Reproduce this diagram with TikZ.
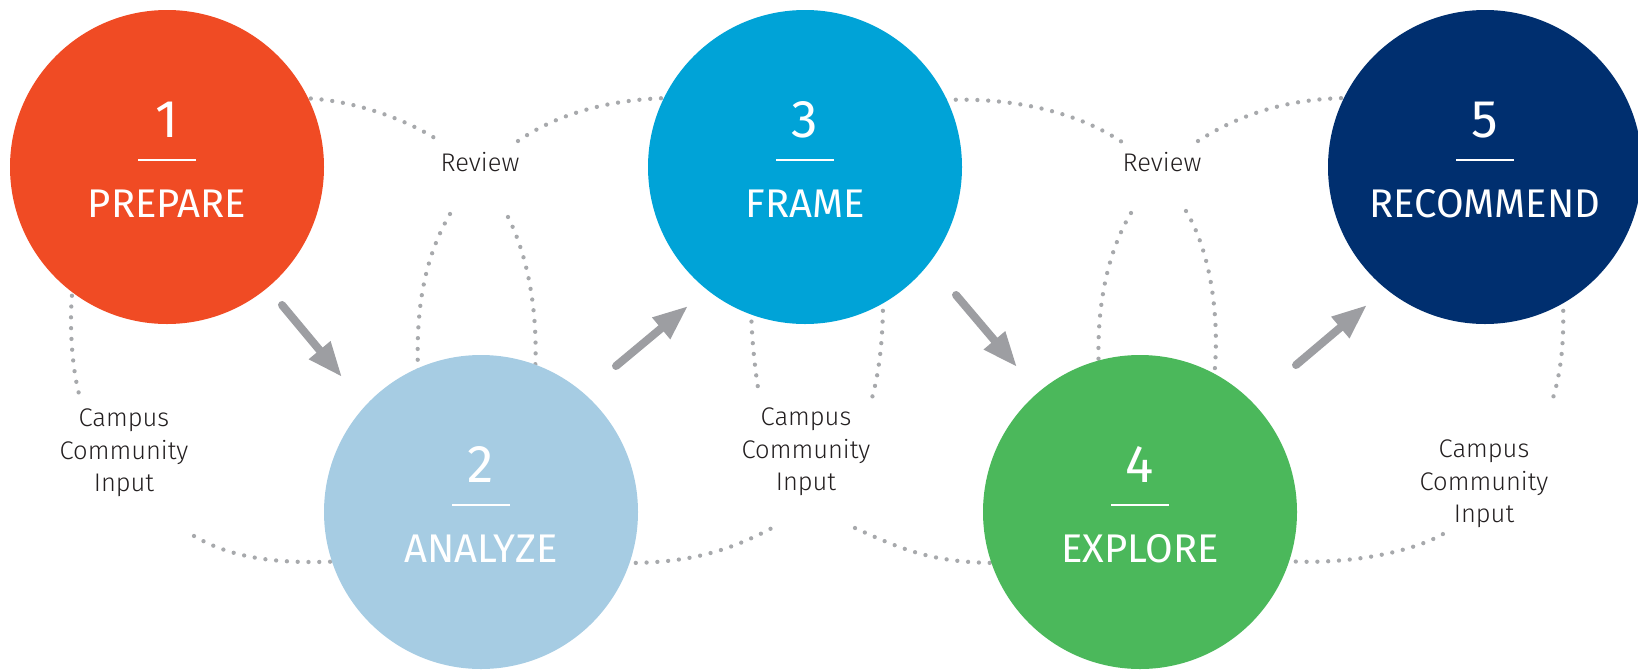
\documentclass[tikz,border=0pt]{standalone}
\usepackage{fontspec}
\setmainfont{Fira Sans}
\newfontfamily\lightfont{Fira Sans Light}
\usetikzlibrary{arrows.meta}
\definecolor{c1col}{HTML}{F04B24}
\definecolor{c2col}{HTML}{A6CCE3}
\definecolor{c3col}{HTML}{00A3D7}
\definecolor{c4col}{HTML}{4BB85B}
\definecolor{c5col}{HTML}{002F6F}
\definecolor{arrowgray}{HTML}{9D9EA2}
\definecolor{dotgray}{HTML}{A7A9AC}
\definecolor{labelcol}{HTML}{231F20}
\tikzset{
  stagecircle/.style={circle, minimum size=314pt, inner sep=0pt, draw=none},
  numtext/.style={text=white, inner sep=0pt, anchor=base, font=\fontsize{53}{53}\selectfont},
  wordtext/.style={text=white, inner sep=0pt, anchor=base, font=\fontsize{40}{40}\selectfont},
  ruleline/.style={draw=white, line width=2pt},
  dotline/.style={draw=dotgray, line width=4.3pt, line cap=round, dash pattern=on 0pt off 10.8pt},
  flowarrow/.style={draw=arrowgray, line width=8pt, line cap=round, -{Triangle[length=35pt,width=26pt]}},
  labeltext/.style={text=labelcol, inner sep=0pt, align=center, font=\lightfont\fontsize{25.5}{32.5}\selectfont}
}
\newcommand{\mystage}[6]{%
  \node[stagecircle, fill=#4] (#1) at (#2,#3) {};
  \node[numtext] (#1num) at ({#2},{#3-30}) {#5};
  \draw[ruleline] ({#2-29},{#3-7}) -- ({#2+29},{#3-7});
  \node[wordtext] (#1word) at ({#2},{#3+50}) {#6};
}
\begin{document}
\begin{tikzpicture}[x=1pt,y=-1pt]
\useasboundingbox (0,0) rectangle (1638,670);
% free ends of the dotted loops
\coordinate (rAend) at (441,142);
\coordinate (rBstart) at (518,141);
\coordinate (rCstart) at (450,214);
\coordinate (rDstart) at (508,217);
\coordinate (iEend) at (79,394);
\coordinate (iFstart) at (194,536);
\coordinate (iGend) at (759,394);
\coordinate (iHend) at (872,398);
\coordinate (iIend) at (772,528);
\coordinate (iJstart) at (855,528);
\coordinate (rKend) at (1122,142);
\coordinate (rLstart) at (1198,141);
\coordinate (rMstart) at (1131,213);
\coordinate (rNstart) at (1186,211);
\coordinate (iOend) at (1553,398);
\coordinate (iPend) at (1443,534);
% dotted loops (drawn first, circles cover their ends)
\draw[dotline] (300,98) .. controls (350,99) and (405,118) .. (rAend);
\draw[dotline] (rBstart) .. controls (559,112.5) and (615,98) .. (675,98);
\draw[dotline] (rCstart) .. controls (422,262) and (416,315) .. (418,372);
\draw[dotline] (rDstart) .. controls (530.5,261.5) and (538,320) .. (535,372);
\draw[dotline] (73,285) .. controls (69,318) and (71,362) .. (iEend);
\draw[dotline] (iFstart) .. controls (237,561.5) and (290,564) .. (345,561);
\draw[dotline] (751,300) .. controls (751,335) and (755,370) .. (iGend);
\draw[dotline] (883,300) .. controls (883,335) and (880,369) .. (iHend);
\draw[dotline] (625,563) .. controls (685,563) and (725,553) .. (iIend);
\draw[dotline] (iJstart) .. controls (905,551) and (935,563) .. (1000,563);
\draw[dotline] (945,100) .. controls (990,98) and (1064,103.5) .. (rKend);
\draw[dotline] (rLstart) .. controls (1240,114) and (1290,98) .. (1350,98);
\draw[dotline] (rMstart) .. controls (1104,258) and (1096,318) .. (1099,372);
\draw[dotline] (rNstart) .. controls (1212,254) and (1220,322) .. (1214,378);
\draw[dotline] (1563,300) .. controls (1564,335) and (1562.6,366) .. (iOend);
\draw[dotline] (1285,561) .. controls (1345,565) and (1410,553) .. (iPend);
% stages
\mystage{c1}{167}{167}{c1col}{1}{PREPARE}
\mystage{c2}{481}{512}{c2col}{2}{ANALYZE}
\mystage{c3}{805}{167}{c3col}{3}{FRAME}
\mystage{c4}{1140}{512}{c4col}{4}{EXPLORE}
\mystage{c5}{1485}{167}{c5col}{5}{RECOMMEND}
% arrows
\coordinate (a1s) at (282,305); \coordinate (a1e) at (342,377);
\coordinate (a2s) at (616,366); \coordinate (a2e) at (688,306);
\coordinate (a3s) at (956,295); \coordinate (a3e) at (1017,367);
\coordinate (a4s) at (1296,365); \coordinate (a4e) at (1367,305);
\draw[flowarrow] (a1s) -- (a1e);
\draw[flowarrow] (a2s) -- (a2e);
\draw[flowarrow] (a3s) -- (a3e);
\draw[flowarrow] (a4s) -- (a4e);
% labels
\node[labeltext] (rev1) at (480,162) {Review};
\node[labeltext] (rev2) at (1162,162) {Review};
\node[labeltext] (cci1) at (124,453) {Campus\\Community\\Input};
\node[labeltext] (cci2) at (806,452) {Campus\\Community\\Input};
\node[labeltext] (cci3) at (1484,484) {Campus\\Community\\Input};
\end{tikzpicture}
\end{document}
